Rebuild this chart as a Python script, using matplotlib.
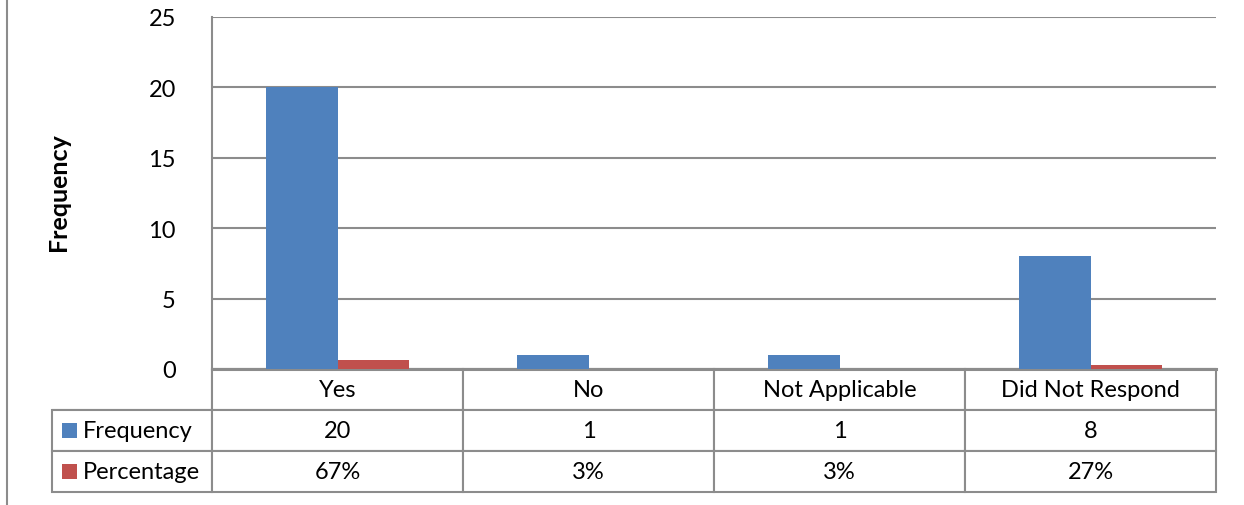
import matplotlib.pyplot as plt
import numpy as np
from matplotlib.patches import Rectangle
from matplotlib.lines import Line2D

plt.rcParams['font.family'] = ['Lato', 'DejaVu Sans']

categories = ['Yes', 'No', 'Not Applicable', 'Did Not Respond']
frequency = [20, 1, 1, 8]
percentage = [0.67, 0.03, 0.03, 0.27]
series_names = ['Frequency', 'Percentage']
colours = ['#4F81BD', '#C0504D']
grid_col = '#8C8C8C'

fig = plt.figure(figsize=(12.44, 5.06), dpi=100)
W, H = 1244, 506
# axes box in pixels: left 212, right 1216, top 18, bottom 370
ax = fig.add_axes([212 / W, 1 - 370 / H, 1004 / W, 352 / H])

x = np.arange(len(categories))
bw = 1 / 3.5
ax.bar(x - bw / 2, frequency, bw, color=colours[0], zorder=3)
ax.bar(x + bw / 2, percentage, bw, color=colours[1], zorder=3)

ax.set_xlim(-0.5, len(categories) - 0.5)
ax.set_ylim(0, 25)
ax.set_yticks(range(0, 26, 5))
ax.set_xticks([])
ax.tick_params(axis='y', length=0, pad=26, labelsize=17)
ax.grid(axis='y', color=grid_col, linewidth=1.5, zorder=0)
for s in ['top', 'right']:
    ax.spines[s].set_visible(False)
ax.spines['left'].set_color(grid_col)
ax.spines['left'].set_linewidth(1.5)
ax.spines['bottom'].set_color(grid_col)
ax.spines['bottom'].set_linewidth(2.2)

ax.set_ylabel('Frequency', fontsize=18, fontweight='bold')
ax.yaxis.set_label_coords(-0.1414, 0.506)

# data table under the plot
rows = [[''] + categories,
        [series_names[0]] + [str(v) for v in frequency],
        [series_names[1]] + ['%d%%' % round(v * 100) for v in percentage]]
left = (52 - 212) / 1004
tbl = ax.table(cellText=rows, cellLoc='center',
               colWidths=[160] + [251] * len(categories),
               bbox=[left, -123 / 352, 1164 / 1004, 123 / 352])
tbl.auto_set_font_size(False)
tbl.set_fontsize(17)
for (r, c), cell in tbl.get_celld().items():
    cell.set_edgecolor(grid_col)
    cell.set_linewidth(1.5)
    if r == 0 and c == 0:
        cell.visible_edges = 'BR'
    if r > 0 and c == 0:
        cell._loc = 'left'
        cell.PAD = 0.19
        cell.get_text().set_ha('left')

# legend keys in the row label cells
row_mid = [(370 - 431) / 352, (370 - 472) / 352]
sq_w, sq_h = 15 / 1004, 15 / 352
for i in range(2):
    ax.add_patch(Rectangle(((62 - 212) / 1004, row_mid[i] - sq_h / 2), sq_w, sq_h,
                           facecolor=colours[i], edgecolor='none',
                           transform=ax.transAxes, clip_on=False))

fig.add_artist(Line2D([7.5 / W, 7.5 / W], [0, 1], color='#8C8C8C', linewidth=1.5))

fig.savefig('out.png', dpi=100)
